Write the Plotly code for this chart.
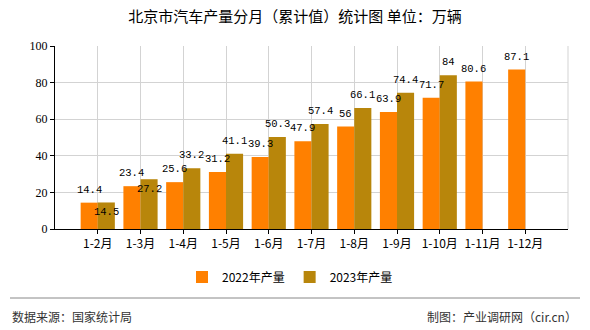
import plotly.graph_objects as go

categories = ["1-2月", "1-3月", "1-4月", "1-5月", "1-6月", "1-7月", "1-8月", "1-9月", "1-10月", "1-11月", "1-12月"]
values_2022 = [14.4, 23.4, 25.6, 31.2, 39.3, 47.9, 56, 63.9, 71.7, 80.6, 87.1]
values_2023 = [14.5, 27.2, 33.2, 41.1, 50.3, 57.4, 66.1, 74.4, 84, None, None]
series_names = ["2022年产量", "2023年产量"]
y_ticks = [0, 20, 40, 60, 80, 100]

W, H = 590, 330
L, R, T, B = 55, 22, 46, 101
pw, ph = W - L - R, H - T - B
BARGAP = 0.2
slot_px = pw / 12.0               # x range spans 12 category slots
bar_px = slot_px * (1 - BARGAP) / 2
offsets = [-bar_px / 2, bar_px / 2]

def px_x(x):
    return (x - L) / pw

def px_y(y):
    return (H - B - y) / ph

def fmt(v):
    return ("%g" % v)

label_font = dict(family="Liberation Mono, DejaVu Sans Mono, monospace", size=10.5, color="#000")

fig = go.Figure()
for name, vals, color in [(series_names[0], values_2022, "#FF8000"),
                          (series_names[1], values_2023, "#B8860B")]:
    fig.add_trace(go.Bar(
        x=categories, y=vals, name=name,
        marker=dict(color=color, line=dict(width=0)),
        hoverinfo="x+y",
    ))

# data labels drawn on top of all bars
annotations = []
for cat, a, b in zip(categories, values_2022, values_2023):
    if a is not None:
        annotations.append(dict(x=cat, y=a, xref="x", yref="y", text=fmt(a), showarrow=False,
                                xshift=offsets[0], yshift=5, yanchor="bottom", xanchor="center",
                                font=label_font))
    if b is not None:
        inside = a is not None and (b - a) < 5   # would collide with the 2022 label
        annotations.append(dict(x=cat, y=b, xref="x", yref="y", text=fmt(b), showarrow=False,
                                xshift=offsets[1], yshift=-2 if inside else 5,
                                yanchor="top" if inside else "bottom", xanchor="center",
                                font=label_font))

annotations += [
    dict(text="数据来源：国家统计局", xref="paper", yref="paper",
         x=px_x(10), y=px_y(316), xanchor="left", yanchor="middle", showarrow=False,
         font=dict(family="Noto Sans CJK SC, sans-serif", size=12, color="#333")),
    dict(text="制图：产业调研网（cir.cn）", xref="paper", yref="paper",
         x=px_x(579), y=px_y(316), xanchor="right", yanchor="middle", showarrow=False,
         font=dict(family="Noto Sans CJK SC, sans-serif", size=12, color="#333")),
]

fig.update_layout(
    width=W, height=H,
    margin=dict(l=L, r=R, t=T, b=B),
    paper_bgcolor="white", plot_bgcolor="white",
    barmode="group", bargap=BARGAP, bargroupgap=0,
    font=dict(family="Noto Sans CJK SC, sans-serif", size=12, color="#000"),
    title=dict(
        text="北京市汽车产量分月（累计值）统计图 单位：万辆",
        x=0.5, xref="container", xanchor="center",
        y=1 - 17 / H, yref="container", yanchor="middle",
        font=dict(family="Noto Sans CJK SC, sans-serif", size=15, color="#000"),
    ),
    xaxis=dict(
        type="category", range=[-1, 11],
        showgrid=True, gridcolor="#d3d3d3", gridwidth=1,
        showline=True, linecolor="#000", linewidth=1,
        ticks="outside", ticklen=4, tickcolor="#000",
        tickfont=dict(family="Noto Sans CJK SC, sans-serif", size=12, color="#000"),
        zeroline=False, fixedrange=True,
    ),
    yaxis=dict(
        range=[0, 100], tickvals=y_ticks,
        showgrid=True, gridcolor="#d3d3d3", gridwidth=1,
        showline=True, linecolor="#000", linewidth=1,
        ticks="outside", ticklen=4, tickcolor="#000",
        tickfont=dict(family="Liberation Serif, DejaVu Serif, serif", size=12, color="#000"),
        zeroline=False, fixedrange=True,
    ),
    legend=dict(
        orientation="h", x=290 / W, xref="container", xanchor="center",
        y=1 - 277 / H, yref="container", yanchor="middle",
        font=dict(family="Noto Sans CJK SC, sans-serif", size=12, color="#000"),
        itemwidth=30, bgcolor="rgba(0,0,0,0)",
    ),
    showlegend=True,
    shapes=[
        dict(type="line", xref="paper", yref="paper", x0=1, x1=1, y0=0, y1=1,
             line=dict(color="#d3d3d3", width=1), layer="below"),
        dict(type="line", xref="paper", yref="paper", x0=px_x(10), x1=px_x(580),
             y0=px_y(298), y1=px_y(298), line=dict(color="#888", width=1)),
    ],
    annotations=annotations,
)

fig.write_html("out.html", include_plotlyjs=True, config={"displayModeBar": False})
